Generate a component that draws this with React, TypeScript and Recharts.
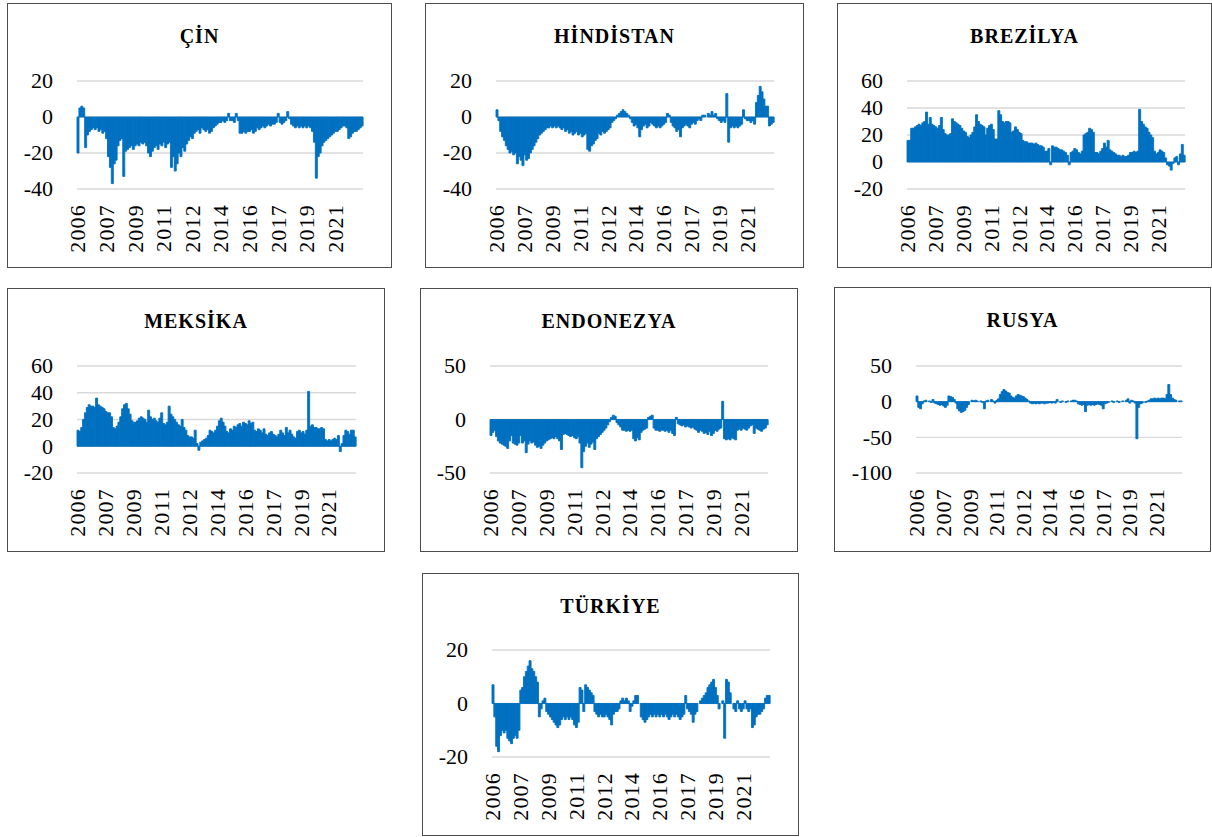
import React from 'react';
import { BarChart, Bar, XAxis, YAxis, CartesianGrid } from 'recharts';

const tickLabels = ['2006', '2007', '2009', '2011', '2012', '2014', '2016', '2017', '2019', '2021'];
const POINTS_PER_LABEL = 15;

const cinValues = [
  -20, 5, 6, 5, -17, -10, -8, -7, -6, -7, -6, -8, -7, -9, -8, -12, -22, -28, -37, -26,
  -24, -16, -13, -12, -33, -19, -18, -17, -16, -18, -16, -15, -16, -14, -15, -14, -16, -20, -22, -19,
  -17, -16, -18, -15, -16, -14, -17, -15, -14, -28, -22, -30, -26, -20, -22, -17, -19, -15, -13, -11,
  -12, -9, -8, -7, -9, -6, -7, -8, -7, -9, -8, -6, -5, -4, -3, -3, -2, -3, -2, 2,
  -2, -2, -3, 2, -2, -9, -9, -8, -9, -8, -8, -7, -9, -8, -6, -7, -6, -5, -6, -5,
  -4, -5, -4, -4, -3, 2, -3, -4, -3, -2, 3, -1, -4, -5, -6, -5, -6, -5, -6, -5,
  -6, -5, -6, -8, -14, -34, -22, -20, -16, -14, -13, -12, -11, -10, -9, -8, -8, -7, -6, -5,
  -5, -6, -12, -11, -9, -8, -8, -7, -6, -5,
];

const hindistanValues = [
  4, -2, -8, -11, -13, -16, -18, -20, -19, -21, -20, -26, -22, -24, -27, -21, -24, -23, -20, -18,
  -16, -14, -12, -10, -9, -8, -7, -6, -6, -5, -6, -5, -6, -5, -6, -7, -6, -8, -7, -9,
  -8, -10, -9, -8, -10, -9, -11, -10, -9, -18, -19, -16, -15, -13, -12, -9, -10, -8, -9, -8,
  -7, -6, -3, -2, -1, 1, 2, 3, 4, 3, 2, 1, -1, -3, -5, -4, -6, -11, -7, -5,
  -4, -6, -5, -3, -4, -5, -6, -5, -6, -5, -4, -3, 2, 1, -3, -5, -6, -8, -7, -11,
  -6, -5, -4, -5, -6, -4, -3, -4, -2, -1, -2, 1, 1, 0, 2, 1, 3, 1, 2, -1,
  -2, -3, -2, -3, 13, -14, -6, -5, -6, -5, -6, -5, -4, 4, -1, -2, -2, -3, -2, -4,
  8, 12, 17, 14, 10, 6, 6, -5, -4, -3,
];

const brezilyaValues = [
  16, 16, 25, 25, 26, 27, 28, 27, 29, 30, 37, 28, 33, 28, 27, 26, 25, 27, 33, 24,
  21, 20, 20, 21, 32, 30, 29, 28, 27, 25, 23, 22, 19, 18, 20, 22, 26, 35, 30, 28,
  27, 26, 20, 25, 27, 28, 24, 17, 17, 38, 35, 30, 29, 30, 30, 29, 22, 23, 26, 24,
  22, 21, 16, 15, 15, 14, 14, 14, 13, 14, 13, 12, 12, 11, 8, 8, 10, -2, 12, 11,
  11, 10, 9, 9, 8, 7, 5, -2, 7, 8, 10, 9, 7, 6, 8, 20, 21, 22, 25, 24,
  22, 7, 7, 6, 8, 10, 14, 11, 16, 9, 8, 7, 6, 5, 5, 4, 5, 4, 4, 5,
  7, 7, 8, 7, 8, 39, 30, 28, 26, 25, 22, 20, 18, 8, 6, 7, 9, 8, 7, 3,
  -2, -3, -6, -1, 3, 4, -2, 6, 13, 5,
];

const meksikaValues = [
  12, 11, 14, 20, 25, 29, 31, 30, 30, 29, 36, 31, 30, 29, 28, 26, 25, 25, 22, 14,
  13, 15, 18, 22, 28, 31, 32, 28, 24, 19, 18, 18, 19, 21, 22, 21, 20, 18, 27, 22,
  20, 21, 19, 18, 21, 25, 17, 16, 18, 30, 24, 22, 20, 18, 16, 15, 20, 14, 12, 8,
  7, 7, 6, 12, 2, -3, 3, 4, 5, 6, 8, 12, 11, 10, 12, 15, 19, 21, 18, 15,
  11, 10, 13, 12, 15, 14, 16, 17, 15, 18, 17, 16, 19, 17, 18, 12, 11, 13, 12, 10,
  13, 9, 8, 10, 11, 9, 8, 7, 9, 12, 10, 8, 14, 10, 12, 9, 7, 6, 11, 12,
  10, 11, 9, 12, 41, 15, 16, 14, 14, 13, 13, 14, 13, 5, 4, 5, 4, 5, 6, 5,
  8, -4, 2, 8, 12, 11, 9, 12, 12, 7,
];

const endonezyaValues = [
  -15, -12, -10, -16, -20, -22, -23, -24, -25, -27, -20, -15, -22, -23, -24, -22, -15, -22, -20, -31,
  -23, -20, -22, -21, -24, -26, -25, -27, -24, -22, -20, -19, -18, -17, -18, -16, -18, -20, -28, -14,
  -13, -14, -15, -16, -15, -17, -18, -16, -22, -45, -30, -25, -22, -26, -23, -21, -28, -18, -16, -14,
  -12, -10, -8, -5, -2, 2, 4, 3, -3, -5, -7, -10, -10, -11, -10, -11, -10, -18, -20, -17,
  -19, -12, -10, -9, -8, 2, 3, 4, -8, -10, -10, -11, -10, -10, -11, -10, -12, -10, -13, -15,
  2, -4, -5, -6, -5, -7, -6, -7, -8, -7, -9, -10, -12, -10, -11, -13, -12, -14, -11, -15,
  -13, -10, -11, -9, -8, 17, -18, -19, -18, -19, -17, -18, -19, -10, -9, -10, -8, -9, -10, -8,
  -6, -5, -13, -8, -9, -10, -11, -9, -8, -5,
];

const rusyaValues = [
  8, -8, -10, -3, 1, 2, 0, 1, -1, 3, -2, -3, -4, -5, -4, -6, -8, -5, 8, 7,
  6, 3, -2, -10, -13, -15, -14, -12, -8, -4, 0, 2, 1, 2, 1, 0, 1, -1, -10, 1,
  2, 0, 3, 1, -2, 2, 4, 10, 14, 17, 15, 13, 12, 8, 6, 5, 8, 10, 9, 8,
  7, 5, 3, 1, -2, -3, -2, -3, -2, -3, -2, -2, -3, -2, -2, -1, -2, -1, -2, 3,
  0, -1, 1, 0, -1, 1, 0, 1, 2, 2, 1, -3, -4, -5, -4, -14, -5, -4, -5, -4,
  -5, -4, -3, -4, -5, -10, -3, -2, -1, 0, 1, -1, 0, 1, -1, 0, 1, 0, 2, 4,
  -2, 2, 1, -2, -52, -8, -3, -2, 0, -1, 1, 2, 4, 4, 5, 4, 5, 4, 5, 5,
  4, 10, 24, 10, 5, 3, 2, 0, 1, 1,
];

const turkiyeValues = [
  7, -5, -16, -18, -12, -10, -11, -10, -13, -14, -15, -13, -12, -13, -10, 5, 6, 10, 12, 14,
  16, 13, 12, 10, 8, -5, -2, 1, 2, -3, -4, -5, -6, -7, -8, -9, -8, -6, -5, -6,
  -5, -6, -5, -6, -8, -9, -7, 6, 5, -3, 7, 6, 5, 4, 3, -3, -4, -5, -4, -5,
  -5, -4, -5, -6, -8, -4, -3, -3, -2, 1, 2, 1, 2, 1, -3, -1, 1, 3, 3, 0,
  -5, -6, -7, -6, -5, -4, -5, -4, -5, -4, -5, -4, -5, -4, -5, -6, -5, -4, -5, -4,
  -5, -6, -5, -4, 3, -2, -3, -4, -7, -4, -3, 0, 1, 2, 3, 4, 6, 7, 8, 9,
  6, 3, -2, 0, 1, -13, 9, 8, 4, 0, -2, -3, 1, -2, -3, -2, 1, -2, -3, -2,
  -9, -8, -5, -4, -4, -3, -2, 2, 3, 3,
];

const buildRows = (values: number[]) =>
  values.map((v, i) => ({
    label: i % POINTS_PER_LABEL === 0 ? tickLabels[i / POINTS_PER_LABEL] ?? '' : '',
    v,
  }));

const FONT = "'Liberation Serif', 'Times New Roman', serif";
const BLUE = '#0070C0';

type Panel = {
  title: string;
  values: number[];
  domain: [number, number];
  ticks: number[];
  left: number;
  top: number;
  width: number;
  height: number;
  plotLeft: number;
  plotRight: number;
  plotTop: number;
  plotBottom: number;
};

const panels: Panel[] = [
  { title: 'ÇİN', values: cinValues, domain: [-40, 20], ticks: [-40, -20, 0, 20], left: 7, top: 3, width: 385, height: 265, plotLeft: 70, plotRight: 356, plotTop: 78, plotBottom: 186 },
  { title: 'HİNDİSTAN', values: hindistanValues, domain: [-40, 20], ticks: [-40, -20, 0, 20], left: 425, top: 3, width: 379, height: 265, plotLeft: 71, plotRight: 349, plotTop: 78, plotBottom: 186 },
  { title: 'BREZİLYA', values: brezilyaValues, domain: [-20, 60], ticks: [-20, 0, 20, 40, 60], left: 837, top: 3, width: 375, height: 265, plotLeft: 70, plotRight: 348, plotTop: 78, plotBottom: 186 },
  { title: 'MEKSİKA', values: meksikaValues, domain: [-20, 60], ticks: [-20, 0, 20, 40, 60], left: 7, top: 288, width: 378, height: 264, plotLeft: 70, plotRight: 349, plotTop: 78, plotBottom: 185 },
  { title: 'ENDONEZYA', values: endonezyaValues, domain: [-50, 50], ticks: [-50, 0, 50], left: 420, top: 288, width: 378, height: 264, plotLeft: 70, plotRight: 348, plotTop: 78, plotBottom: 185 },
  { title: 'RUSYA', values: rusyaValues, domain: [-100, 50], ticks: [-100, -50, 0, 50], left: 834, top: 287, width: 377, height: 265, plotLeft: 82, plotRight: 348, plotTop: 79, plotBottom: 186 },
  { title: 'TÜRKİYE', values: turkiyeValues, domain: [-20, 20], ticks: [-20, 0, 20], left: 422, top: 573, width: 377, height: 263, plotLeft: 70, plotRight: 348, plotTop: 77, plotBottom: 184 },
];

const XTick = (props: any) => {
  const { x, y, payload } = props;
  if (!payload || payload.value === '') return null;
  const ty = y + 15;
  return (
    <text
      x={x}
      y={ty}
      transform={`rotate(-90 ${x} ${ty})`}
      textAnchor="end"
      dy="0.34em"
      fontSize={22}
      style={{ letterSpacing: '1.2px' }}
      fill="#000"
      fontFamily={FONT}
    >
      {payload.value}
    </text>
  );
};

const YTick = (props: any) => {
  const { x, y, payload } = props;
  return (
    <text x={x} y={y} textAnchor="end" dy="0.34em" fontSize={22} fill="#000" fontFamily={FONT}>
      {payload.value}
    </text>
  );
};

const ChartPanel = ({ p }: { p: Panel }) => {
  const rows = buildRows(p.values);
  return (
    <div style={{ position: 'absolute', left: p.left, top: p.top, width: p.width, height: p.height }}>
      <div style={{ position: 'absolute', left: 0, top: 0 }}>
        <BarChart
          width={p.width}
          height={p.height}
          data={rows}
          margin={{ top: p.plotTop, right: p.width - p.plotRight, left: 0, bottom: 0 }}
          barCategoryGap={0}
          barGap={0}
        >
          <CartesianGrid vertical={false} stroke="#d9d9d9" strokeWidth={1.3} />
          <XAxis
            dataKey="label"
            interval={POINTS_PER_LABEL - 1}
            axisLine={false}
            tickLine={false}
            tickSize={0}
            tickMargin={0}
            height={p.height - p.plotBottom}
            tick={<XTick />}
          />
          <YAxis
            type="number"
            domain={p.domain}
            ticks={p.ticks}
            interval={0}
            axisLine={false}
            tickLine={false}
            tickSize={0}
            tickMargin={24}
            width={p.plotLeft}
            allowDataOverflow
            tick={<YTick />}
          />
          <Bar dataKey="v" fill={BLUE} stroke={BLUE} strokeWidth={0.9} isAnimationActive={false} />
        </BarChart>
      </div>
      <div
        style={{
          position: 'absolute',
          left: 0,
          top: 23,
          width: '100%',
          textAlign: 'center',
          fontFamily: FONT,
          fontWeight: 'bold',
          fontSize: 20,
          lineHeight: '20px',
          letterSpacing: '1px',
          color: '#000',
        }}
      >
        {p.title}
      </div>
      <div
        style={{
          position: 'absolute',
          left: 0,
          top: 0,
          width: p.width,
          height: p.height,
          border: '1px solid #4d4d4d',
          boxSizing: 'border-box',
          pointerEvents: 'none',
        }}
      />
    </div>
  );
};

export default function App() {
  return (
    <div style={{ position: 'absolute', left: 0, top: 0, width: 1212, height: 837, background: '#fff', overflow: 'hidden' }}>
      {panels.map((p) => (
        <ChartPanel key={p.title} p={p} />
      ))}
    </div>
  );
}
